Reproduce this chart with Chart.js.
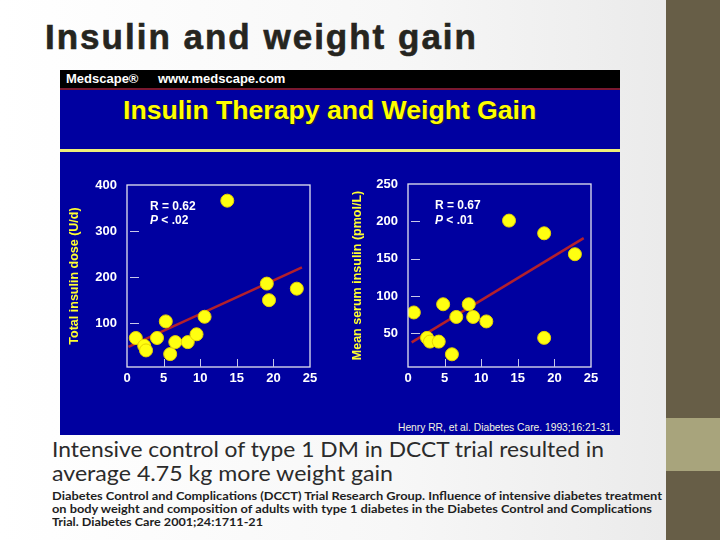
<!DOCTYPE html>
<html>
<head>
<meta charset="utf-8">
<script src="https://cdn.jsdelivr.net/npm/chart.js@4.4.1/dist/chart.umd.min.js"></script>
<style>
  html, body { margin: 0; padding: 0; }
  body {
    width: 720px; height: 540px; position: relative; overflow: hidden;
    background: linear-gradient(to right, #ffffff 0%, #f7f7f7 55%, #ebebeb 92%);
    font-family: "Liberation Sans", Arial, sans-serif;
  }
  .abs { position: absolute; white-space: nowrap; }
  .fit { display: inline-block; transform-origin: 0 50%; }
  #sidebar { left: 666px; top: 0; width: 54px; height: 540px; background: #675E47; }
  #band { left: 666px; top: 418px; width: 54px; height: 53px; background: #A8A47C; }
  #title { left: 45px; top: 19px; font: bold 35px/35px "Liberation Sans", Arial, sans-serif; color: #26251f; letter-spacing: 2px; -webkit-text-stroke: 0.6px #26251f; }
  #panel { left: 60px; top: 70px; width: 560px; height: 365px; background: #0000A0; }
  #blackbar { left: 0; top: 0; width: 560px; height: 18px; background: #000; }
  #redline { left: 0; top: 18px; width: 560px; height: 2px; background: #7a1830; }
  .med { color: #fff; font: bold 13px/18px "Liberation Sans", Arial, sans-serif; top: 0; }
  #ptitle { left: 63px; top: 25px; color: #FFFF00; font: bold 26.6px/30px "Liberation Sans", Arial, sans-serif; text-shadow: 1px 1px 0 #202020; }
  #yline { left: 0; top: 79px; width: 560px; height: 3px; background: #EFEF78; }
  .stat { color: #fff; font: bold 12px/14px "Liberation Sans", Arial, sans-serif; }
  #cite { color: #f4f4e0; font: 10.5px/12px "Liberation Sans", Arial, sans-serif; }
  canvas { position: absolute; }
  .body1 { color: #2b2b2b; font: 21px/24px Lato, "Open Sans", sans-serif; }
  .body2 { color: #1e1e1e; font: bold 12px/13px Lato, "Liberation Sans Narrow", sans-serif; }
</style>
</head>
<body>
<div id="sidebar" class="abs"></div>
<div id="band" class="abs"></div>
<div id="title" class="abs">Insulin and weight gain</div>

<div id="panel" class="abs">
  <div id="blackbar" class="abs"></div>
  <div id="redline" class="abs"></div>
  <div class="abs med" style="left:6px;">Medscape®</div>
  <div class="abs med" style="left:98px;">www.medscape.com</div>
  <div id="ptitle" class="abs">Insulin Therapy and Weight Gain</div>
  <div id="yline" class="abs"></div>
</div>

<canvas id="c1" width="260" height="215" style="left:60px; top:175px;"></canvas>
<canvas id="c2" width="260" height="215" style="left:340px; top:175px;"></canvas>

<div class="abs stat" style="left:150px; top:199px;">R = 0.62</div>
<div class="abs stat" style="left:150px; top:213px;"><i>P</i> &lt; .02</div>
<div class="abs stat" style="left:435px; top:198px;">R = 0.67</div>
<div class="abs stat" style="left:435px; top:213px;"><i>P</i> &lt; .01</div>
<div class="abs" style="left:398px; top:417px;"><span id="cite" class="fit" data-w="216">Henry RR, et al. Diabetes Care. 1993;16:21-31.</span></div>

<div class="abs" style="left:52px; top:437px;"><span class="fit body1" data-w="552">Intensive control of type 1 DM in DCCT trial resulted in</span></div>
<div class="abs" style="left:52px; top:461px;"><span class="fit body1" data-w="341">average 4.75 kg more weight gain</span></div>
<div class="abs" style="left:52px; top:486px;"><span class="fit body2" data-w="610">Diabetes Control and Complications (DCCT) Trial Research Group. Influence of intensive diabetes treatment</span></div>
<div class="abs" style="left:52px; top:499px;"><span class="fit body2" data-w="600">on body weight and composition of adults with type 1 diabetes in the Diabetes Control and Complications</span></div>
<div class="abs" style="left:52px; top:512px;"><span class="fit body2" data-w="211">Trial. Diabetes Care 2001;24:1711-21</span></div>

<script>
// ---- Data ----
// Left panel: weight gain (kg) vs total insulin dose (U/d)
const leftX = [1.2, 2.35, 2.6, 4.1, 5.3, 5.9, 6.6, 8.3, 9.5, 10.6, 13.7, 19.1, 19.4, 23.2];
const leftY = [68, 51, 41, 68, 104, 33, 59, 59, 76, 114, 366, 186, 150, 175];
const leftFitX = [0.2, 23.9];
const leftFitY = [48.5, 221];
const leftYTicks = [100, 200, 300, 400];
const leftYTitle = "Total insulin dose (U/d)";

// Right panel: weight gain (kg) vs mean serum insulin (pmol/L)
const rightX = [0.8, 2.6, 3.0, 4.2, 4.8, 6.0, 6.6, 8.3, 8.9, 10.7, 13.8, 18.6, 18.6, 22.8];
const rightY = [78, 44, 39, 39, 89, 22, 72, 89, 72, 66, 201, 184, 44, 156];
const rightFitX = [0.5, 24.0];
const rightFitY = [38, 177.5];
const rightYTicks = [50, 100, 150, 200, 250];
const rightYTitle = "Mean serum insulin (pmol/L)";

const xTicks = [0, 5, 10, 15, 20, 25];

// ---- Fit text widths ----
document.querySelectorAll('.fit').forEach(el => {
  const w = el.getBoundingClientRect().width;
  const target = parseFloat(el.dataset.w);
  if (w > 0) el.style.transform = 'scaleX(' + (target / w) + ')';
});

const pairs = (xs, ys) => xs.map((x, i) => ({x: x, y: ys[i]}));

const boxPlugin = {
  id: 'boxPlugin',
  afterDraw(chart) {
    const {ctx, chartArea: a, scales} = chart;
    ctx.save();
    ctx.strokeStyle = '#e4e4f0';
    ctx.lineWidth = 1.3;
    ctx.strokeRect(a.left, a.top, a.right - a.left, a.bottom - a.top);
    ctx.strokeStyle = '#c8c8e8';
    ctx.lineWidth = 1;
    ctx.beginPath();
    scales.x.ticks.forEach(t => {
      if (t.value <= scales.x.min || t.value >= scales.x.max) return;
      const px = Math.round(scales.x.getPixelForValue(t.value)) + 0.5;
      ctx.moveTo(px, a.bottom);
      ctx.lineTo(px, a.bottom - 8);
    });
    scales.y.ticks.forEach(t => {
      if (t.value >= scales.y.max - 1 || t.value <= scales.y.min) return;
      const py = Math.round(scales.y.getPixelForValue(t.value)) + 0.5;
      ctx.moveTo(a.left + 3, py);
      ctx.lineTo(a.left + 12, py);
    });
    ctx.stroke();
    ctx.restore();
  }
};

function makeChart(id, xs, ys, fx, fy, yMin, yMax, yTicks, yTitle, yWidth, titlePad, padTop, padRight) {
  return new Chart(document.getElementById(id), {
    type: 'scatter',
    data: {
      datasets: [
        {
          data: pairs(xs, ys),
          pointRadius: 6.5,
          pointBackgroundColor: '#FFFF10',
          pointBorderColor: '#E6D200',
          pointBorderWidth: 1,
          order: 1
        },
        {
          data: pairs(fx, fy),
          showLine: true,
          pointRadius: 0,
          borderColor: '#B3202C',
          borderWidth: 2.5,
          order: 2
        }
      ]
    },
    options: {
      responsive: false,
      animation: false,
      devicePixelRatio: 1,
      layout: { padding: { top: padTop, right: padRight, left: 0, bottom: 0 } },
      plugins: { legend: { display: false }, tooltip: { enabled: false } },
      scales: {
        x: {
          type: 'linear', min: 0, max: 25,
          afterBuildTicks: s => { s.ticks = xTicks.map(v => ({value: v})); },
          afterFit: s => { s.height = 23; s.paddingLeft = 0; s.paddingRight = 0; },
          grid: { display: false, drawTicks: false },
          border: { display: false },
          ticks: { color: '#ffffff', padding: 4, font: { family: 'Liberation Sans', size: 13, weight: 'bold' }, maxRotation: 0 }
        },
        y: {
          type: 'linear', min: yMin, max: yMax,
          afterBuildTicks: s => { s.ticks = yTicks.map(v => ({value: v})); },
          afterFit: s => { s.width = yWidth; s.paddingTop = 0; s.paddingBottom = 0; },
          grid: { display: false, drawTicks: false },
          border: { display: false },
          title: { display: true, text: yTitle, color: '#FFFF30', padding: { top: titlePad, bottom: 0 },
                   font: { family: 'Liberation Sans', size: 12.5, weight: 'bold' } },
          ticks: { color: '#ffffff', padding: 10, font: { family: 'Liberation Sans', size: 13, weight: 'bold' } }
        }
      }
    },
    plugins: [boxPlugin]
  });
}

makeChart('c1', leftX, leftY, leftFitX, leftFitY, 5, 400, leftYTicks, leftYTitle, 67, 7, 10, 10);
makeChart('c2', rightX, rightY, rightFitX, rightFitY, 5, 250, rightYTicks, rightYTitle, 68, 10, 9, 9);
</script>
</body>
</html>
